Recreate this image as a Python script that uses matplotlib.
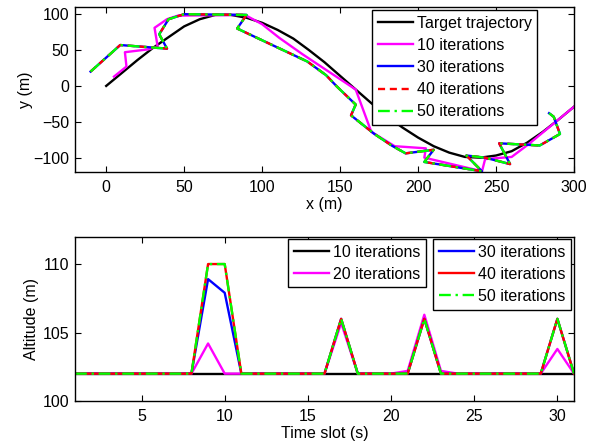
import numpy as np
import matplotlib
matplotlib.use('Agg')
import matplotlib.pyplot as plt

plt.rcParams['font.family'] = ['Liberation Sans', 'DejaVu Sans']
plt.rcParams['font.size'] = 11.5

# target trajectory (x, y) in metres
target_x = [0, 10, 20, 30, 40, 50, 60, 70, 80, 90, 100, 110, 120, 130, 140, 150,
            160, 170, 180, 190, 200, 210, 220, 230, 240, 250, 260, 270, 280, 290, 300]
target_y = [0, 18, 36, 53, 68, 83, 93, 99, 99, 95, 88, 78, 66, 50, 33, 14,
            -5, -24, -42, -58, -72, -84, -93, -99, -100, -97, -91, -79, -64, -47, -29]

# uav path after 10 iterations
it10_x = [5, 13, 12, 27, 33, 31, 39, 46, 89, 100, 111, 126, 160, 170, 185, 205, 204,
          241, 243, 260, 271, 300]
it10_y = [13, 27, 47, 51, 55, 81, 93, 98, 99, 86, 67, 44, -5, -64, -84, -87, -100,
          -119, -102, -99, -81, -29]

# path after 30/40/50 iterations (identical)
it30_x = [-10, 9, 39, 34, 40, 50, 90, 84, 129, 141, 148, 160, 157, 172, 183, 192,
          210, 204, 241, 231, 243, 259, 252, 278, 291, 287, 284]
it30_y = [20, 57, 52, 72, 93, 100, 99, 80, 34, 15, -1, -26, -41, -67, -83, -94,
          -89, -106, -119, -97, -100, -109, -80, -83, -67, -43, -38]

# altitude per time slot
slots = np.arange(1, 32)
alt10 = [102] * 31
alt20 = [102, 102, 102, 102, 102, 102, 102, 102, 104.2, 102, 102, 102, 102, 102, 102, 102,
         105.7, 102, 102, 102, 102.2, 106.3, 102.2, 102, 102, 102, 102, 102, 102, 103.8, 102]
alt30 = [102, 102, 102, 102, 102, 102, 102, 102, 108.9, 107.9, 102, 102, 102, 102, 102, 102,
         106, 102, 102, 102, 102, 106, 102, 102, 102, 102, 102, 102, 102, 106, 102]
alt40 = [102, 102, 102, 102, 102, 102, 102, 102, 110, 110, 102, 102, 102, 102, 102, 102,
         106, 102, 102, 102, 102, 106, 102, 102, 102, 102, 102, 102, 102, 106, 102]
alt50 = list(alt40)

fig = plt.figure(figsize=(6.01, 4.44), dpi=100)
ax1 = fig.add_axes([0.1248, 0.6126, 0.8303, 0.3716])
ax2 = fig.add_axes([0.1248, 0.0968, 0.8303, 0.3702])

lw = 1.7
leg_kw = dict(borderaxespad=0, fancybox=False, edgecolor='k', framealpha=1,
              handlelength=2.2, labelspacing=0.45, borderpad=0.35,
              handletextpad=0.25, fontsize=11.5)

ax1.plot(target_x, target_y, color='k', lw=lw, label='Target trajectory')
ax1.plot(it10_x, it10_y, color='#ff00ff', lw=lw, label='10 iterations')
ax1.plot(it30_x, it30_y, color='#0000ff', lw=lw, label='30 iterations')
ax1.plot(it30_x, it30_y, color='#ff0000', lw=lw, ls=(0, (3, 2)), label='40 iterations')
ax1.plot(it30_x, it30_y, color='#00ff00', lw=lw, ls=(0, (5, 2, 1, 2)), label='50 iterations')
ax1.set_xlim(-20, 300)
ax1.set_ylim(-120, 110)
ax1.set_xticks([0, 50, 100, 150, 200, 250, 300])
ax1.set_yticks([-100, -50, 0, 50, 100])
ax1.set_xlabel('x (m)', labelpad=1)
ax1.set_ylabel('y (m)', labelpad=0)
ax1.legend(loc='upper left', bbox_to_anchor=(0.595, 0.982), **leg_kw)

l10, = ax2.plot(slots, alt10, color='k', lw=lw, label='10 iterations')
l20, = ax2.plot(slots, alt20, color='#ff00ff', lw=lw, label='20 iterations')
l30, = ax2.plot(slots, alt30, color='#0000ff', lw=lw, label='30 iterations')
l40, = ax2.plot(slots, alt40, color='#ff0000', lw=lw, label='40 iterations')
l50, = ax2.plot(slots, alt50, color='#00ff00', lw=lw, ls=(0, (5, 2, 1, 2)), label='50 iterations')
ax2.set_xlim(1, 31)
ax2.set_ylim(100, 112)
ax2.set_xticks([5, 10, 15, 20, 25, 30])
ax2.set_yticks([100, 105, 110])
ax2.set_xlabel('Time slot (s)', labelpad=1)
ax2.set_ylabel('Altitude (m)', labelpad=3)
leg1 = ax2.legend(handles=[l10, l20], loc='upper left', bbox_to_anchor=(0.427, 0.986), **leg_kw)
ax2.add_artist(leg1)
ax2.legend(handles=[l30, l40, l50], loc='upper right', bbox_to_anchor=(0.994, 0.986), **leg_kw)

for ax in (ax1, ax2):
    ax.tick_params(direction='in', top=True, right=True, length=4, width=0.8)
    ax.tick_params(axis='x', pad=6)
    ax.tick_params(axis='y', pad=4)
    for s in ax.spines.values():
        s.set_linewidth(1.0)

fig.savefig('out.png', dpi=100)
